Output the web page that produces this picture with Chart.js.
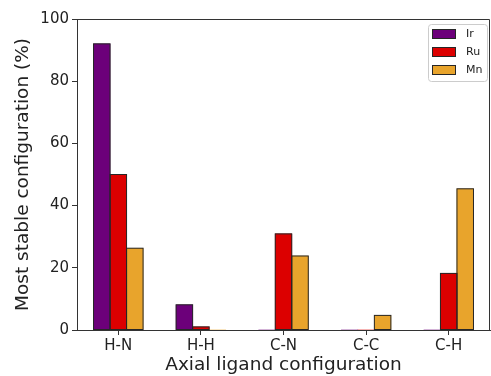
<!DOCTYPE html>
<html>
<head>
<meta charset="utf-8">
<script src="https://cdn.jsdelivr.net/npm/chart.js@4.4.1/dist/chart.umd.min.js"></script>
<style>
  html, body { margin: 0; padding: 0; background: #fff; overflow: hidden; }
  canvas { display: block; }
</style>
</head>
<body>
<canvas id="barChart" width="491" height="376"></canvas>
<script>
const configLabels = ['H-N', 'H-H', 'C-N', 'C-C', 'C-H'];
const irValues = [92, 8.1, 0, 0, 0];
const ruValues = [50, 1, 30.9, 0, 18.2];
const mnValues = [26.3, 0, 23.8, 4.7, 45.4];
const yTicks = [0, 20, 40, 60, 80, 100];

const axisColor = '#333';
const textColor = '#222';
const edgeColor = '#262626';
const fontFamily = '"DejaVu Sans", sans-serif';

// black edges around each bar, like matplotlib edgecolor
const barEdgePlugin = {
  id: 'barEdges',
  afterDatasetsDraw(chart) {
    const ctx = chart.ctx;
    ctx.save();
    ctx.strokeStyle = edgeColor;
    ctx.lineWidth = 1;
    chart.data.datasets.forEach((ds, i) => {
      chart.getDatasetMeta(i).data.forEach(bar => {
        const left = bar.x - bar.width / 2;
        const top = Math.min(bar.y, bar.base);
        const h = Math.abs(bar.base - bar.y);
        if (h < 0.5) return;
        ctx.strokeRect(left, top, bar.width, h);
      });
    });
    ctx.restore();
  }
};

// top and right spines, plus the legend box drawn inside the plot
const framePlugin = {
  id: 'frame',
  afterDraw(chart) {
    const { ctx, chartArea: a } = chart;
    ctx.save();
    ctx.strokeStyle = axisColor;
    ctx.lineWidth = 1;
    ctx.beginPath();
    ctx.moveTo(a.left, a.top + 0.5);
    ctx.lineTo(a.right - 0.5, a.top + 0.5);
    ctx.lineTo(a.right - 0.5, a.bottom);
    ctx.stroke();

    // legend
    const boxX = 428, boxY = 24, boxW = 59, boxH = 57;
    ctx.fillStyle = 'rgba(255,255,255,0.8)';
    ctx.strokeStyle = '#ccc';
    ctx.beginPath();
    ctx.roundRect(boxX + 0.5, boxY + 0.5, boxW, boxH, 3);
    ctx.fill();
    ctx.stroke();
    ctx.font = '11px ' + fontFamily;
    ctx.textBaseline = 'middle';
    chart.data.datasets.forEach((ds, i) => {
      const cy = boxY + 10 + i * 18;
      ctx.fillStyle = ds.backgroundColor;
      ctx.strokeStyle = edgeColor;
      ctx.fillRect(432, cy - 4.5, 24, 9);
      ctx.strokeRect(432.5, cy - 4.5, 23, 9);
      ctx.fillStyle = textColor;
      ctx.fillText(ds.label, 466, cy);
    });
    ctx.restore();
  }
};

const ctx = document.getElementById('barChart').getContext('2d');
const barChart = new Chart(ctx, {
  type: 'bar',
  data: {
    labels: configLabels,
    datasets: [
      { label: 'Ir', data: irValues, backgroundColor: '#6c007a' },
      { label: 'Ru', data: ruValues, backgroundColor: '#dc0000' },
      { label: 'Mn', data: mnValues, backgroundColor: '#e8a42c' }
    ].map(ds => Object.assign(ds, {
      borderWidth: 0,
      inflateAmount: 0.3,
      categoryPercentage: 0.6,
      barPercentage: 1.0
    }))
  },
  options: {
    responsive: false,
    animation: false,
    layout: { padding: { top: 19, right: 1, left: 0, bottom: 0 } },
    plugins: {
      legend: { display: false },
      tooltip: { enabled: false }
    },
    scales: {
      x: {
        grid: {
          offset: false,
          drawOnChartArea: false,
          drawTicks: true,
          tickLength: 5,
          color: axisColor
        },
        border: { display: true, color: axisColor, width: 1 },
        ticks: {
          color: textColor,
          padding: 2,
          font: { family: fontFamily, size: 15 }
        },
        title: {
          display: true,
          text: 'Axial ligand configuration',
          color: textColor,
          padding: { top: 0, bottom: 0 },
          font: { family: fontFamily, size: 18.5 }
        },
        afterFit(scale) { scale.height = 46; }
      },
      y: {
        min: 0,
        max: 100,
        afterBuildTicks(scale) { scale.ticks = yTicks.map(v => ({ value: v })); },
        grid: {
          drawOnChartArea: false,
          drawTicks: true,
          tickLength: 5,
          color: axisColor
        },
        border: { display: true, color: axisColor, width: 1 },
        ticks: {
          color: textColor,
          padding: 3,
          font: { family: fontFamily, size: 15 }
        },
        title: {
          display: true,
          text: 'Most stable configuration (%)',
          color: textColor,
          padding: { top: 12, bottom: 0 },
          font: { family: fontFamily, size: 18.5 }
        },
        afterFit(scale) { scale.width = 77; }
      }
    }
  },
  plugins: [barEdgePlugin, framePlugin]
});
</script>
</body>
</html>
